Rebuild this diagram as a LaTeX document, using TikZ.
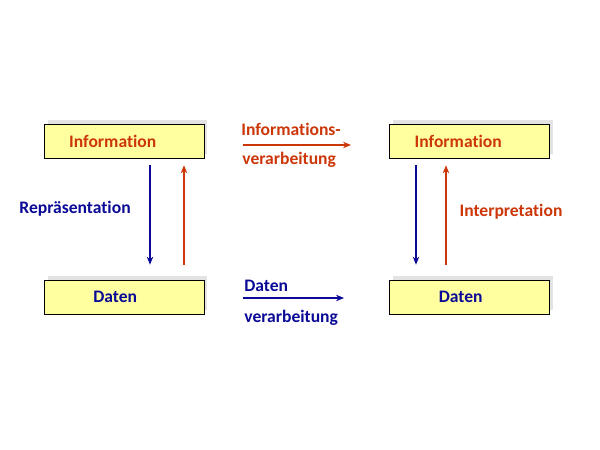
\documentclass[tikz,border=0pt]{standalone}
\usepackage{fontspec}
\setmainfont[RawFeature=-liga]{Carlito}
\usetikzlibrary{arrows.meta, positioning, shadows}

\definecolor{infored}{RGB}{204,55,10}
\definecolor{datablue}{RGB}{10,10,150}
\definecolor{boxyellow}{RGB}{255,255,160}

\begin{document}
\begin{tikzpicture}[
    x=0.02cm, y=-0.02cm,
    box/.style={draw, fill=boxyellow, minimum width=3.2cm, minimum height=0.68cm,
        font=\bfseries\fontsize{10}{12}\selectfont,
        drop shadow={shadow xshift=0.07cm, shadow yshift=0.08cm, fill=gray!22, opacity=1}},
    label/.style={font=\bfseries\fontsize{10}{12}\selectfont, inner sep=0pt},
    redarrow/.style={-{Stealth[length=1.6mm, width=1.3mm]}, line width=0.6pt, draw=infored},
    bluearrow/.style={-{Stealth[length=1.6mm, width=1.3mm]}, line width=0.6pt, draw=datablue}
]
\useasboundingbox (0,0) rectangle (600,450);

% Boxes
\node[box, text=infored] (infoL) at (124,141) {Information\hspace*{0.45cm}};
\node[box, text=datablue] (datL) at (124,297) {Daten\hspace*{0.35cm}};
\node[box, text=infored] (infoR) at (469.5,141) {Information\hspace*{0.45cm}};
\node[box, text=datablue] (datR) at (469.5,297) {Daten\hspace*{0.35cm}};

% Vertical arrows
\draw[bluearrow, shorten <=0.14cm, shorten >=0.3cm] ([xshift=0.52cm]infoL.south) -- ([xshift=0.52cm]datL.north);
\draw[redarrow, shorten <=0.3cm, shorten >=0.14cm] ([xshift=1.2cm]datL.north) -- ([xshift=1.2cm]infoL.south);
\draw[bluearrow, shorten <=0.14cm, shorten >=0.3cm] ([xshift=-1.07cm]infoR.south) -- ([xshift=-1.07cm]datR.north);
\draw[redarrow, shorten <=0.3cm, shorten >=0.14cm] ([xshift=-0.47cm]datR.north) -- ([xshift=-0.47cm]infoR.south);

\node[label, text=datablue] (repr) at (75,209) {Repräsentation};
\node[label, text=infored] (interp) at (511,212) {Interpretation};

% Horizontal arrows
\coordinate (ivStart) at (243,145);
\coordinate (ivEnd) at (351,145);
\draw[redarrow] (ivStart) -- (ivEnd);
\node[label, text=infored, anchor=west] (ivTop) at (241,129) {Informations-};
\node[label, text=infored, anchor=west] (ivBot) at (242,160) {verarbeitung};

\coordinate (dvStart) at (243,298);
\coordinate (dvEnd) at (344,298);
\draw[bluearrow] (dvStart) -- (dvEnd);
\node[label, text=datablue, anchor=west] (dvTop) at (244,286) {Daten};
\node[label, text=datablue, anchor=west] (dvBot) at (244,318) {verarbeitung};

\end{tikzpicture}
\end{document}
